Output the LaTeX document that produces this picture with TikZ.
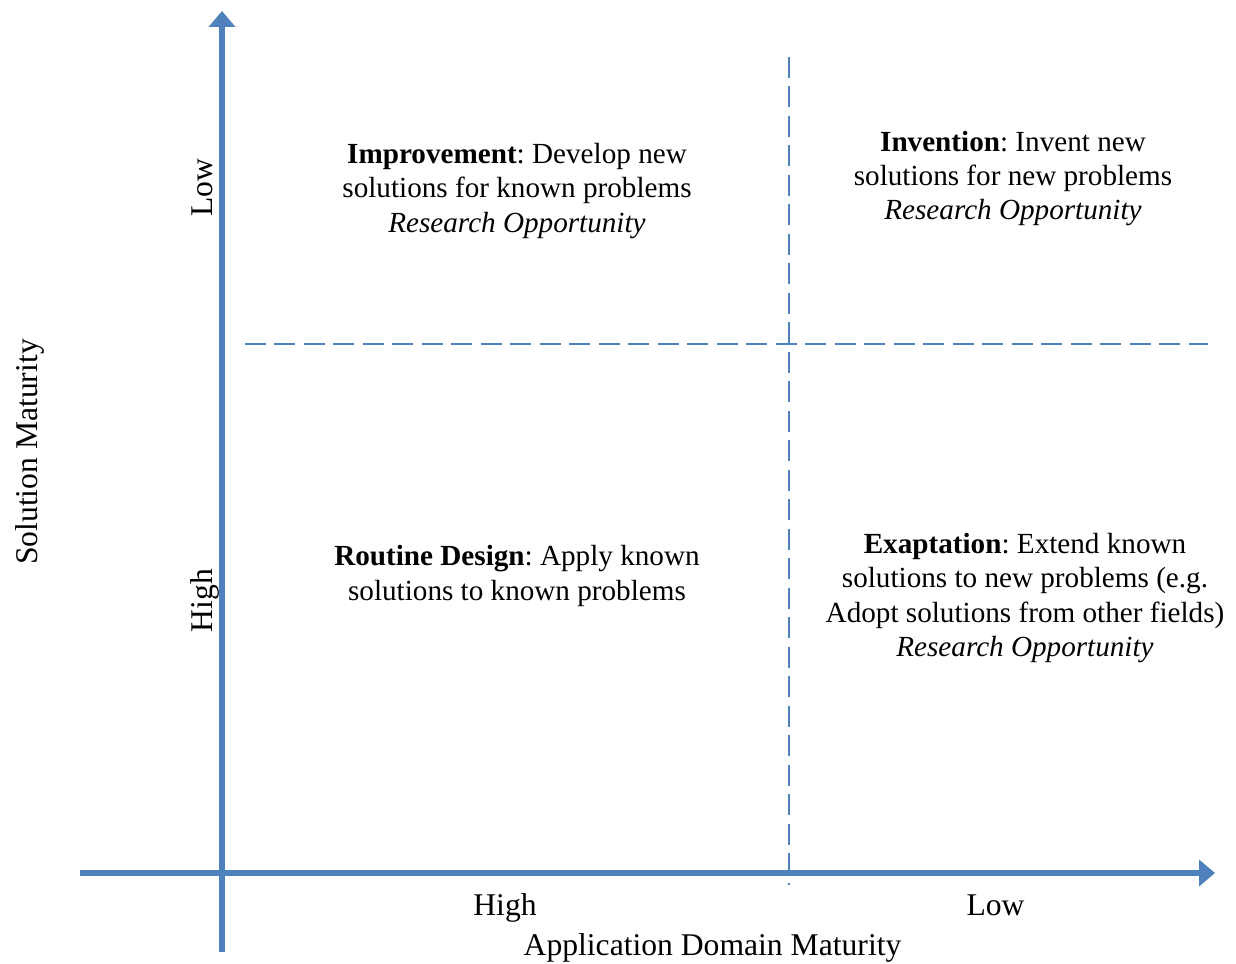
\documentclass[tikz,border=0pt]{standalone}
\usepackage{fontspec}
\setmainfont{Liberation Serif}
\usetikzlibrary{arrows.meta}
\definecolor{axisblue}{HTML}{4F81BD}
\tikzset{
  axis/.style={line width=2.9pt, draw=axisblue, -{Triangle[width=0.52cm,length=0.32cm]}},
  divider/.style={line width=1.1pt, draw=axisblue, dash pattern=on 0.42cm off 0.17cm},
  quad/.style={align=center, inner sep=0pt, font=\fontsize{16.6}{19.4}\selectfont},
  lbl/.style={inner sep=0pt, anchor=base, font=\fontsize{18}{21}\selectfont},
}
\begin{document}
\frenchspacing
\begin{tikzpicture}[x=0.02cm, y=-0.02cm]
\useasboundingbox (0,0) rectangle (1236,963);
% axis end points
\coordinate (yb) at (222,952);
\coordinate (yt) at (222,11);
\coordinate (xl) at (80,873);
\coordinate (xr) at (1215,873);
% quadrant dividers
\coordinate (vt) at (789,57);
\coordinate (vb) at (789,885);
\coordinate (hl) at (245,344);
\coordinate (hr) at (1208,344);

\draw[divider] (vt) -- (vb);
\draw[divider] (hl) -- (hr);
\draw[axis] (yb) -- (yt);
\draw[axis] (xl) -- (xr);

% axis labels
\node[lbl, rotate=90] (ylow) at (212,187.5) {Low};
\node[lbl, rotate=90] (yhigh) at (212,600.5) {High};
\node[lbl, rotate=90] (ytitle) at (37,452) {Solution Maturity};
\node[lbl] (xhigh) at (505,915) {High};
\node[lbl] (xlow) at (995.5,915) {Low};
\node[lbl] (xtitle) at (712.5,955) {Application Domain Maturity};

% quadrant texts
\node[quad] (improve) at (517,191) {\textbf{Improvement}: Develop new\\solutions for known problems\\\textit{Research Opportunity}};
\node[quad] (invent) at (1013,178.5) {\textbf{Invention}: Invent new\\solutions for new problems\\\textit{Research Opportunity}};
\node[quad] (routine) at (517,576) {\textbf{Routine Design}: Apply known\\solutions to known problems};
\node[quad] (exapt) at (1025,598) {\textbf{Exaptation}: Extend known\\solutions to new problems (e.g.\\Adopt solutions from other fields)\\\textit{Research Opportunity}};
\end{tikzpicture}
\end{document}
